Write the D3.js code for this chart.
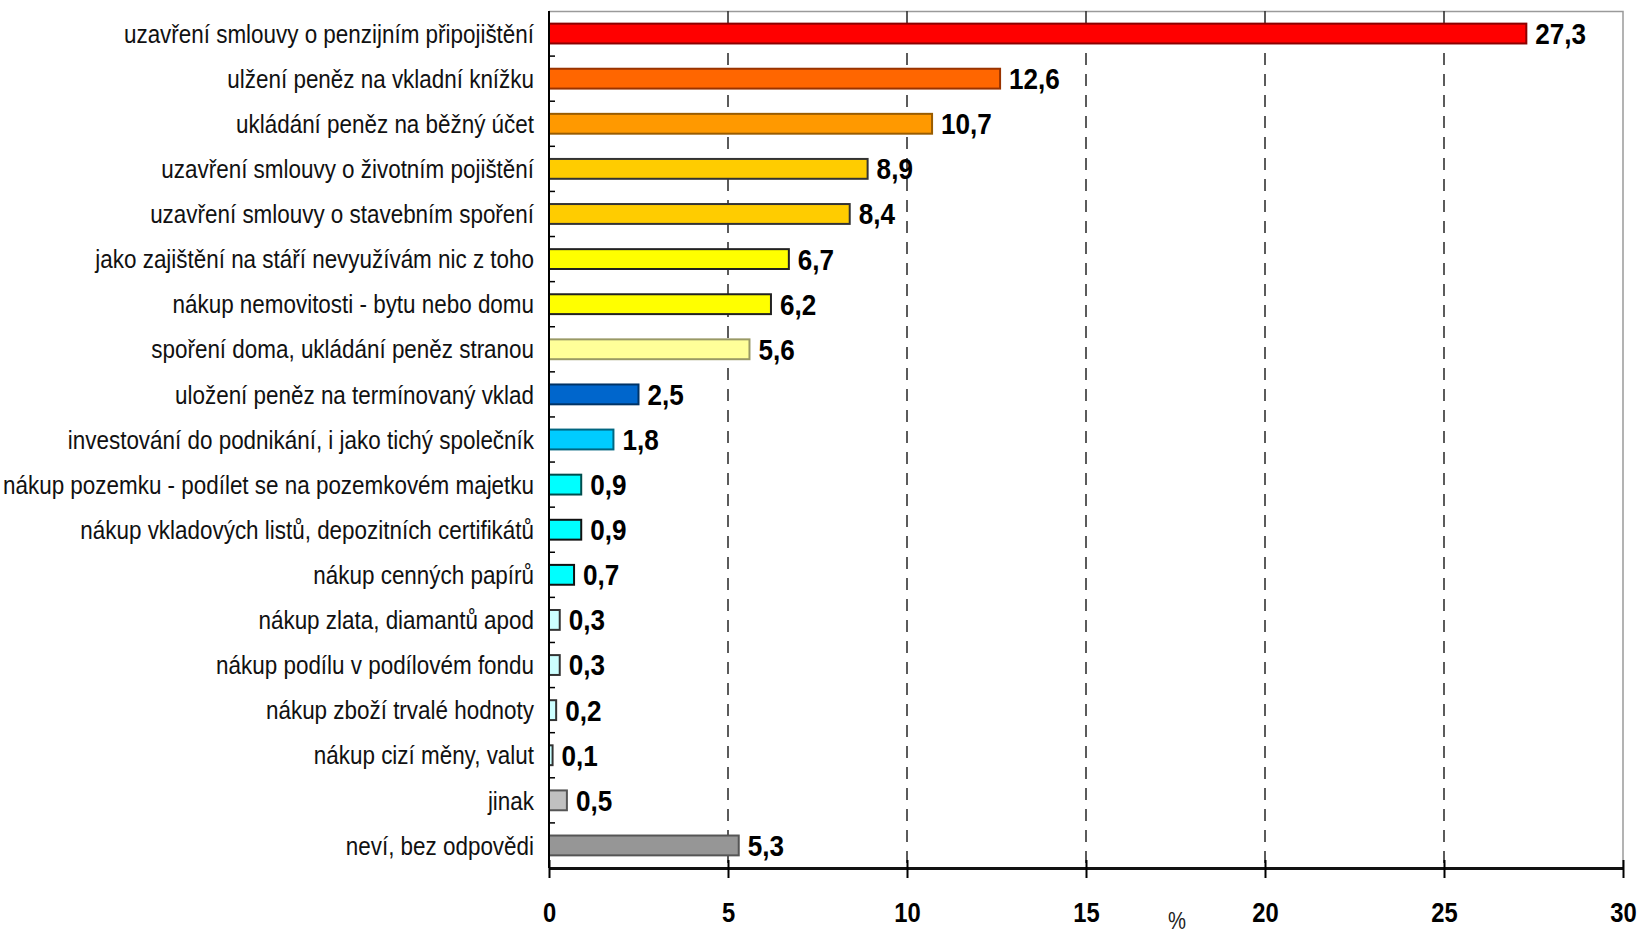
<!DOCTYPE html>
<html>
<head>
<meta charset="utf-8">
<script src="https://cdn.jsdelivr.net/npm/d3@7"></script>
<style>
	html, body { margin: 0; padding: 0; background: #fff; }
	svg text { font-family: "Liberation Sans", Arial, sans-serif; }
</style>
</head>
<body>
<div id="chart"></div>
<script>
// categories, top to bottom
const categories = [
	'uzavření smlouvy o penzijním připojištění',
	'ulžení peněz na vkladní knížku',
	'ukládání peněz na běžný účet',
	'uzavření smlouvy o životním pojištění',
	'uzavření smlouvy o stavebním spoření',
	'jako zajištění na stáří nevyužívám nic z toho',
	'nákup nemovitosti - bytu nebo domu',
	'spoření doma, ukládání peněz stranou',
	'uložení peněz na termínovaný vklad',
	'investování do podnikání, i jako tichý společník',
	'nákup pozemku - podílet se na pozemkovém majetku',
	'nákup vkladových listů, depozitních certifikátů',
	'nákup cenných papírů',
	'nákup zlata, diamantů apod',
	'nákup podílu v podílovém fondu',
	'nákup zboží trvalé hodnoty',
	'nákup cizí měny, valut',
	'jinak',
	'neví, bez odpovědi'
];

const values = [27.3, 12.6, 10.7, 8.9, 8.4, 6.7, 6.2, 5.6, 2.5, 1.8, 0.9, 0.9, 0.7, 0.3, 0.3, 0.2, 0.1, 0.5, 5.3];

const xTicks = [0, 5, 10, 15, 20, 25, 30];

// bar palette (fill / outline), same order as categories
const fills = ['#ff0000', '#ff6600', '#ff9900', '#ffcc00', '#ffcc00', '#ffff00', '#ffff00', '#ffff99',
	'#0066cc', '#00ccff', '#00ffff', '#00ffff', '#00ffff', '#ccffff', '#ccffff', '#ccffff', '#ccffff',
	'#c0c0c0', '#969696'];
const strokes = ['#8b0000', '#993300', '#995c00', '#333333', '#333333', '#222222', '#222222', '#999966',
	'#003366', '#006680', '#004d4d', '#111111', '#111111', '#333333', '#333333', '#333333', '#333333',
	'#555555', '#555555'];

const width = 1645;
const height = 933;
const margin = { top: 11, right: 22, bottom: 65, left: 549 };

const svg = d3.select('#chart')
	.append('svg')
	.attr('width', width)
	.attr('height', height);

const g = svg.append('g')
	.attr('transform', `translate(${margin.left},${margin.top})`);

const innerW = width - margin.left - margin.right;
const innerH = height - margin.top - margin.bottom;

const x = d3.scaleLinear()
	.domain([0, 30])
	.range([0, innerW]);

const y = d3.scaleBand()
	.domain(categories)
	.range([0, innerH])
	.paddingInner(0.56)
	.paddingOuter(0.28);

const mid = (i) => y(categories[i]) + y.bandwidth() / 2;

// plot frame (top + right in grey)
g.append('path')
	.attr('d', `M0,0.5H${innerW}V${innerH}`)
	.attr('fill', 'none')
	.attr('stroke', '#9a9a9a')
	.attr('stroke-width', 1.5);

// dashed gridlines
g.selectAll('.grid')
	.data(xTicks.filter((d) => d > 0 && d < 30))
	.enter()
	.append('line')
	.attr('class', 'grid')
	.attr('x1', (d) => x(d))
	.attr('x2', (d) => x(d))
	.attr('y1', 0)
	.attr('y2', innerH)
	.attr('stroke', '#333')
	.attr('stroke-width', 1.6)
	.attr('stroke-dasharray', '12,9');

// bars
g.selectAll('.bar')
	.data(values)
	.enter()
	.append('rect')
	.attr('class', 'bar')
	.attr('x', 0)
	.attr('y', (d, i) => y(categories[i]))
	.attr('width', (d) => x(d))
	.attr('height', y.bandwidth())
	.attr('fill', (d, i) => fills[i])
	.attr('stroke', (d, i) => strokes[i])
	.attr('stroke-width', 2);

// value labels (Arial squeezed to look like Arial Narrow)
g.selectAll('.val')
	.data(values)
	.enter()
	.append('text')
	.attr('class', 'val')
	.attr('transform', (d, i) => `translate(${x(d) + 9},${mid(i)}) scale(0.9,1)`)
	.attr('dy', '0.36em')
	.attr('font-size', 29)
	.attr('font-weight', 'bold')
	.attr('fill', '#000')
	.text((d) => d3.format('.1f')(d).replace('.', ','));

// y axis: line, inner ticks between categories, labels
const yAxis = g.append('g');
yAxis.append('line')
	.attr('x1', 0).attr('x2', 0)
	.attr('y1', 0).attr('y2', innerH)
	.attr('stroke', '#000')
	.attr('stroke-width', 2);

yAxis.selectAll('.ytick')
	.data(d3.range(1, categories.length))
	.enter()
	.append('line')
	.attr('x1', 0).attr('x2', 6)
	.attr('y1', (d) => d * innerH / categories.length)
	.attr('y2', (d) => d * innerH / categories.length)
	.attr('stroke', '#000')
	.attr('stroke-width', 1.5);

yAxis.selectAll('.ylab')
	.data(categories)
	.enter()
	.append('text')
	.attr('transform', (d, i) => `translate(-15,${mid(i)}) scale(0.88,1)`)
	.attr('dy', '0.36em')
	.attr('text-anchor', 'end')
	.attr('font-size', 25.5)
	.attr('fill', '#111')
	.text((d) => d);

// x axis
const xAxis = g.append('g')
	.attr('transform', `translate(0,${innerH})`)
	.call(d3.axisBottom(x).tickValues(xTicks).tickSize(10).tickPadding(25).tickSizeOuter(0));

xAxis.select('.domain')
	.attr('stroke', '#111')
	.attr('stroke-width', 3);
xAxis.selectAll('.tick line')
	.attr('stroke', '#000')
	.attr('stroke-width', 2)
	.attr('y1', -8);
xAxis.selectAll('.tick text')
	.attr('font-family', null)
	.attr('font-size', 27)
	.attr('font-weight', 'bold')
	.attr('fill', '#000')
	.attr('transform', 'scale(0.88,1)');

svg.append('text')
	.attr('transform', 'translate(1177,929) scale(0.88,1)')
	.attr('text-anchor', 'middle')
	.attr('font-size', 23)
	.attr('fill', '#222')
	.text('%');
</script>
</body>
</html>
